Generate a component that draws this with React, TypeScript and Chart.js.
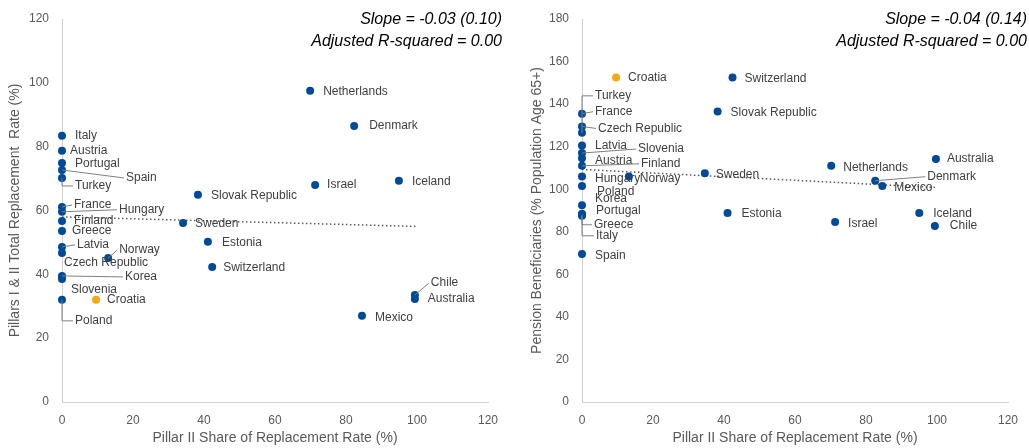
import React, { useEffect, useRef } from "react";
import { Chart, registerables } from "chart.js";

Chart.register(...registerables);

// ---------- Left chart data ----------
const leftCountries = [
  "Italy", "Austria", "Portugal", "Spain", "Turkey", "France", "Hungary", "Finland",
  "Greece", "Latvia", "Czech Republic", "Korea", "Slovenia", "Poland", "Norway", "Croatia",
  "Netherlands", "Denmark", "Israel", "Iceland", "Slovak Republic", "Sweden", "Estonia",
  "Switzerland", "Chile", "Australia", "Mexico",
];
const leftX = [0, 0, 0, 0, 0, 0, 0, 0, 0, 0, 0, 0, 0, 0, 13, 9.6, 69.9, 82.3, 71.3, 94.9, 38.3, 34.1, 41.1, 42.3, 99.4, 99.4, 84.5];
const leftY = [83.4, 78.7, 74.9, 72.7, 70.2, 61.1, 59.6, 56.7, 53.6, 48.6, 46.7, 39.5, 38.5, 32.0, 45.1, 32.0, 97.5, 86.5, 68.0, 69.3, 64.9, 56.1, 50.2, 42.3, 33.5, 32.3, 27.0];
const leftTrendX = [0, 100];
const leftTrendY = [58.0, 55.0];
const leftNote = ["Slope = -0.03 (0.10)", "Adjusted R-squared = 0.00"];
const leftYTitle = "Pillars I & II Total Replacement  Rate (%)";
const leftYTicks = { min: 0, max: 120, step: 20 };

// ---------- Right chart data ----------
const rightCountries = [
  "Croatia", "Switzerland", "Slovak Republic", "Turkey", "France", "Czech Republic", "Latvia",
  "Slovenia", "Austria", "Finland", "Hungary", "Norway", "Poland", "Korea", "Portugal", "Greece",
  "Italy", "Spain", "Sweden", "Estonia", "Netherlands", "Australia", "Denmark", "Mexico",
  "Iceland", "Chile", "Israel",
];
const rightX = [9.6, 42.4, 38.2, 0, 0, 0, 0, 0, 0, 0, 0, 13.2, 0, 0, 0, 0, 0, 0, 34.6, 41.0, 70.2, 99.7, 82.6, 84.6, 95.0, 99.4, 71.3];
const rightY = [152.5, 152.5, 136.5, 126.5, 135.5, 129.5, 120.5, 117, 114.5, 111, 106, 106, 101.5, 92.5, 88.5, 88, 87.5, 69.5, 107.5, 88.8, 111, 114.2, 104, 101.5, 88.8, 82.7, 84.6];
const rightTrendX = [0, 100];
const rightTrendY = [109.3, 100.8];
const rightNote = ["Slope = -0.04 (0.14)", "Adjusted R-squared = 0.00"];
const rightYTitle = "Pension Beneficiaries (% Population Age 65+)";
const rightYTicks = { min: 0, max: 180, step: 20 };

const xTitle = "Pillar II Share of Replacement Rate (%)";
const xTicks = { min: 0, max: 120, step: 20 };
const highlight = "Croatia";

// ---------- Label layout (pixel offsets from the point: dx, dy, leader type) ----------
// leader: 0 none, 1 straight, 2 elbow
const leftLabelLayout: number[][] = [
  [13, 0, 0], [8, 0, 0], [13, 1, 0], [64, 8, 1], [13, 8, 2], [12, -2, 1], [57, -2, 1], [12, 0, 0],
  [10, 0, 0], [15, -2, 1], [2, 10, 0], [63, 1, 1], [9, 11, 0], [13, 21, 2], [11, -8, 1], [11, 0, 0],
  [13, 1, 0], [15, 0, 0], [12, 0, 0], [13, 1, 0], [13, 1, 0], [12, 1, 0], [14, 1, 0],
  [11, 1, 0], [16, -12, 1], [13, 0, 0], [13, 2, 0],
];
const rightLabelLayout: number[][] = [
  [12, 0, 0], [12, 1, 0], [13, 1, 0], [13, -37, 2], [13, -2, 1], [16, 2, 1], [13, 0, 0],
  [56, -4, 1], [13, 2, 0], [59, -2, 1], [13, 2, 0], [11, 2, 0], [15, 6, 0], [13, -6, 0], [14, -3, 0], [12, 10, 2],
  [14, 20, 2], [13, 2, 0], [11, 1, 0], [14, 1, 0], [12, 2, 0], [11, 0, 0], [52, -4, 1], [12, 2, 0],
  [14, 1, 0], [15, 0, 0], [13, 2, 0],
];

const FONT = "'Liberation Sans', Arial, sans-serif";
const BLUE = "#004A98";
const ORANGE = "#F4A90E";
const GREY_TEXT = "#595959";

type Cfg = {
  countries: string[];
  xs: number[];
  ys: number[];
  trendX: number[];
  trendY: number[];
  note: string[];
  yTitle: string;
  yTicks: { min: number; max: number; step: number };
  layout: number[][];
  width: number;
  axisWidth: number;
  padRight: number;
  titlePad: number;
  noteRight: number;
};

function ScatterPanel({ cfg, left }: { cfg: Cfg; left: number }) {
  const ref = useRef<HTMLCanvasElement | null>(null);
  useEffect(() => {
    if (!ref.current) return;
    const labelsPlugin = {
      id: "pointLabels",
      afterDatasetsDraw(chart: any) {
        const ctx = chart.ctx;
        const meta = chart.getDatasetMeta(1);
        ctx.save();
        ctx.font = `12px ${FONT}`;
        ctx.textBaseline = "middle";
        ctx.textAlign = "left";
        cfg.countries.forEach((name, i) => {
          const el = meta.data[i];
          if (!el) return;
          const [dx, dy, leader] = cfg.layout[i];
          const lx = el.x + dx;
          const ly = el.y + dy;
          if (leader) {
            ctx.strokeStyle = "#7f7f7f";
            ctx.lineWidth = 1;
            ctx.beginPath();
            if (leader === 1) {
              ctx.moveTo(el.x, el.y);
              ctx.lineTo(lx - 2, ly);
            } else {
              ctx.moveTo(el.x, el.y);
              ctx.lineTo(el.x, ly);
              ctx.lineTo(lx - 2, ly);
            }
            ctx.stroke();
          }
          ctx.fillStyle = "#404040";
          ctx.fillText(name, lx, ly);
        });
        ctx.restore();
      },
      afterDraw(chart: any) {
        const ctx = chart.ctx;
        ctx.save();
        ctx.font = `italic 16px ${FONT}`;
        ctx.fillStyle = "#000";
        ctx.textAlign = "right";
        ctx.textBaseline = "middle";
        ctx.fillText(cfg.note[0], chart.width - cfg.noteRight, 20);
        ctx.fillText(cfg.note[1], chart.width - cfg.noteRight, 42);
        ctx.restore();
      },
    };
    const chart = new Chart(ref.current, {
      type: "scatter",
      data: {
        datasets: [
          {
            type: "line",
            data: cfg.trendX.map((x, i) => ({ x, y: cfg.trendY[i] })),
            borderColor: "#595959",
            borderWidth: 1.5,
            borderDash: [1.5, 2.5],
            pointRadius: 0,
            fill: false,
            order: 2,
          } as any,
          {
            data: cfg.xs.map((x, i) => ({ x, y: cfg.ys[i] })),
            pointRadius: 4,
            pointHoverRadius: 4,
            borderWidth: 0,
            clip: false,
            pointBackgroundColor: cfg.countries.map((c) => (c === highlight ? ORANGE : BLUE)),
            pointBorderColor: cfg.countries.map((c) => (c === highlight ? ORANGE : BLUE)),
            order: 1,
          } as any,
        ],
      },
      options: {
        animation: false,
        responsive: false,
        maintainAspectRatio: false,
        layout: { padding: { top: 19, right: cfg.padRight, bottom: 0, left: 0 } },
        plugins: { legend: { display: false }, tooltip: { enabled: false } },
        scales: {
          x: {
            type: "linear",
            min: xTicks.min,
            max: xTicks.max,
            grid: { display: false },
            border: { display: true, color: "#d0d0d0", width: 1 },
            ticks: { stepSize: xTicks.step, color: GREY_TEXT, font: { family: FONT, size: 12 }, padding: 3 },
            title: { display: true, text: xTitle, color: GREY_TEXT, font: { family: FONT, size: 14 }, padding: { top: 0, bottom: 1 } },
            afterFit: (s: any) => { s.height = 46; },
          },
          y: {
            type: "linear",
            min: cfg.yTicks.min,
            max: cfg.yTicks.max,
            grid: { display: false },
            border: { display: true, color: "#d0d0d0", width: 1 },
            ticks: { stepSize: cfg.yTicks.step, color: GREY_TEXT, font: { family: FONT, size: 12 }, padding: 5 },
            title: { display: true, text: cfg.yTitle, color: GREY_TEXT, font: { family: FONT, size: 14 }, padding: { top: cfg.titlePad, bottom: 0 } },
            afterFit: (s: any) => { s.width = cfg.axisWidth; },
          },
        },
      },
      plugins: [labelsPlugin],
    } as any);
    return () => chart.destroy();
  }, []);
  return (
    <canvas
      ref={ref}
      width={cfg.width}
      height={448}
      style={{ position: "absolute", left, top: 0, width: cfg.width, height: 448 }}
    />
  );
}

const leftCfg: Cfg = {
  countries: leftCountries, xs: leftX, ys: leftY, trendX: leftTrendX, trendY: leftTrendY,
  note: leftNote, yTitle: leftYTitle, yTicks: leftYTicks, layout: leftLabelLayout,
  width: 510, axisWidth: 62, padRight: 22, titlePad: 7, noteRight: 8,
};
const rightCfg: Cfg = {
  countries: rightCountries, xs: rightX, ys: rightY, trendX: rightTrendX, trendY: rightTrendY,
  note: rightNote, yTitle: rightYTitle, yTicks: rightYTicks, layout: rightLabelLayout,
  width: 514, axisWidth: 67, padRight: 21, titlePad: 14, noteRight: 2,
};

export default function App() {
  return (
    <div style={{ position: "fixed", left: 0, top: 0, width: 1029, height: 448, background: "#fff" }}>
      <ScatterPanel cfg={leftCfg} left={0} />
      <ScatterPanel cfg={rightCfg} left={515} />
    </div>
  );
}
